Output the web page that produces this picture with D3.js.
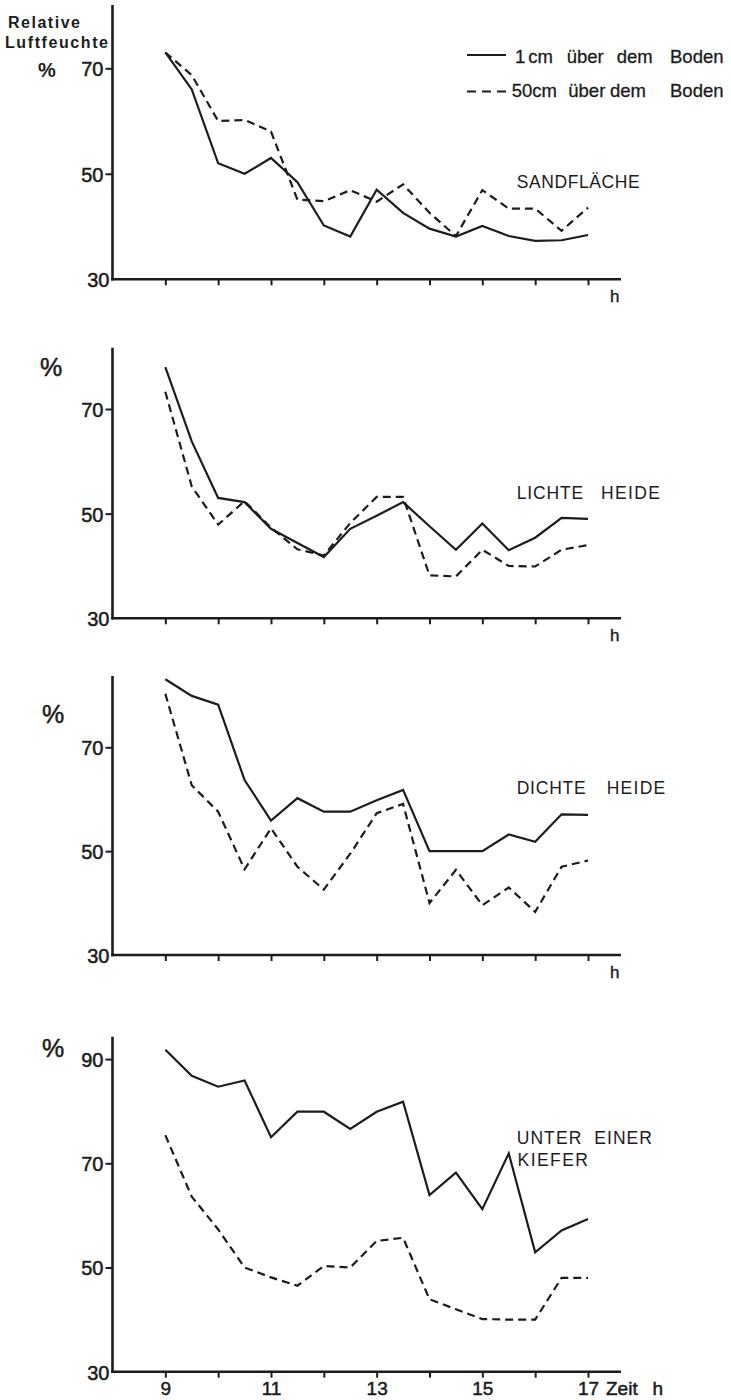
<!DOCTYPE html>
<html><head><meta charset="utf-8">
<script src="https://cdn.jsdelivr.net/npm/d3@7"></script>
<style>
body{margin:0;background:#fff}
svg{display:block}
text{font-family:"Liberation Sans",Arial,sans-serif;fill:#1c1c1c}
</style>
</head><body><svg id="c" width="731" height="1400"></svg>
<script>
// ---- data ----
const hours = [9, 9.5, 10, 10.5, 11, 11.5, 12, 12.5, 13, 13.5, 14, 14.5, 15, 15.5, 16, 16.5, 17];
const xTickValues = [9, 10, 11, 12, 13, 14, 15, 16, 17];
const xTickLabels = [9, 11, 13, 15, 17];
const seriesNames = ["1 cm über dem Boden", "50cm über dem Boden"];

const sandflaeche1cm  = [73, 66, 52, 50, 53, 48.4, 40.2, 38.1, 47, 42.6, 39.6, 38.1, 40.1, 38.2, 37.3, 37.4, 38.4];
const sandflaeche50cm = [73, 68.7, 60, 60.2, 58, 45.1, 44.8, 46.9, 44.7, 48, 42.6, 38.2, 46.9, 43.4, 43.4, 39.2, 43.6];
const lichteHeide1cm  = [78, 63.8, 53, 52.2, 47.1, 44.4, 41.7, 47.1, 49.6, 52.2, 47.6, 43.1, 48.1, 43, 45.4, 49.2, 49];
const lichteHeide50cm = [73.3, 55.2, 47.9, 52.4, 47.3, 43.2, 42, 48.2, 53.2, 53.2, 38.2, 38, 43.1, 40, 39.9, 43.1, 44];
const dichteHeide1cm  = [83.1, 79.9, 78.2, 63.7, 55.9, 60.2, 57.6, 57.6, 59.8, 61.8, 50, 50, 50, 53.2, 51.8, 57.1, 57];
const dichteHeide50cm = [80.3, 62.7, 57.6, 46.5, 54.4, 47, 42.6, 49.5, 57.3, 59.1, 40, 46.4, 39.6, 43, 38.3, 47, 48.2];
const kiefer1cm       = [91.8, 86.8, 84.7, 85.9, 75, 79.9, 79.9, 76.6, 79.9, 81.8, 63.9, 68.2, 61.2, 71.9, 52.9, 57.1, 59.3];
const kiefer50cm      = [75.4, 63.6, 57.3, 50, 48.1, 46.5, 50.3, 50, 55.1, 55.7, 43.9, 42, 40.1, 40, 40, 48, 48];

const panelLabels = [["SANDFLÄCHE"], ["LICHTE", "HEIDE"], ["DICHTE", "HEIDE"], ["UNTER EINER", "KIEFER"]];
const yTickSets = [[30, 50, 70], [30, 50, 70], [30, 50, 70], [30, 50, 70, 90]];
const panelSeries = [
  [sandflaeche1cm, sandflaeche50cm],
  [lichteHeide1cm, lichteHeide50cm],
  [dichteHeide1cm, dichteHeide50cm],
  [kiefer1cm, kiefer50cm]
];

// ---- layout ----
const layout = [
  {y30: 279.3, y70: 68.3, top: 5, pct: [38, 77, 20], lab: [{t:0,x:516.7,y:188}]},
  {y30: 618.3, y70: 409, top: 347.7, pct: [40, 376, 25], lab: [{t:0,x:516.7,y:499},{t:1,x:601,y:499}]},
  {y30: 955, y70: 747.3, top: 676, pct: [42, 723, 25], lab: [{t:0,x:516.7,y:794},{t:1,x:606.7,y:794}]},
  {y30: 1371.7, y70: 1163.3, top: 1036.7, pct: [42, 1057, 25], lab: [{t:0,x:516.7,y:1144},{t:1,x:517.6,y:1166}]}
];
const labWidths = [[123], [66.6, 59], [69, 58.6], [135.3, 70.4]];

const svg = d3.select("#c");
svg.append("rect").attr("width", 731).attr("height", 1400).attr("fill", "#fff");
const x = d3.scaleLinear().domain([8, 17]).range([112.5, 588]);
const axisEnd = 621;
const ink = "#1c1c1c";
const line = y => d3.line().x((d, i) => x(hours[i])).y(d => y(d));

layout.forEach((L, p) => {
  const y = d3.scaleLinear().domain([30, 70]).range([L.y30, L.y70]);
  const g = svg.append("g");
  const isBottom = p === 3;

  // x ticks
  const xa = d3.axisBottom(x).tickValues(xTickValues).tickSize(6).tickPadding(4)
    .tickFormat(d => isBottom && xTickLabels.includes(d) ? d : "");
  const gx = g.append("g").attr("transform", `translate(0,${L.y30})`).call(xa);
  gx.select(".domain").remove();
  gx.selectAll(".tick line").attr("stroke", ink).attr("stroke-width", 2);
  gx.selectAll(".tick text").attr("font-size", 19).attr("fill", ink).attr("font-family", null)
    .attr("stroke", ink).attr("stroke-width", 0.5);

  // y ticks
  const ya = d3.axisLeft(y).tickValues(yTickSets[p]).tickSize(7).tickPadding(2);
  const gy = g.append("g").attr("transform", `translate(${x(8)},0)`).call(ya);
  gy.select(".domain").remove();
  gy.selectAll(".tick line").attr("stroke", ink).attr("stroke-width", 2)
    .attr("x2", d => d === 30 ? 0 : -7);
  gy.selectAll(".tick text").attr("font-size", 20).attr("fill", ink).attr("dy", "0.37em")
    .attr("font-family", null).attr("stroke", ink).attr("stroke-width", 0.5)
    .attr("x", d => d === 30 ? -3 : -9);

  // axis lines
  g.append("line").attr("x1", x(8)).attr("x2", x(8)).attr("y1", L.y30 + 1.3).attr("y2", L.top)
    .attr("stroke", ink).attr("stroke-width", 2.6);
  g.append("line").attr("x1", x(8) - 1.3).attr("x2", axisEnd).attr("y1", L.y30).attr("y2", L.y30)
    .attr("stroke", ink).attr("stroke-width", 2.6);

  // series
  panelSeries[p].forEach((vals, s) => {
    g.append("path").datum(vals).attr("d", line(y))
      .attr("fill", "none").attr("stroke", ink).attr("stroke-width", 2.2)
      .attr("stroke-dasharray", s === 1 ? "8,5" : null);
  });

  // percent sign
  g.append("text").attr("x", L.pct[0]).attr("y", L.pct[1]).attr("font-size", L.pct[2])
    .attr("font-weight", p === 0 ? "bold" : "normal")
    .attr("stroke", ink).attr("stroke-width", p === 0 ? 0 : 0.5).text("%");

  // "h" on x axis
  if (!isBottom) {
    g.append("text").attr("x", 610).attr("y", L.y30 + 22.5).attr("font-size", 17)
      .attr("stroke", ink).attr("stroke-width", 0.4).text("h");
  }

  // panel label
  L.lab.forEach((l, k) => {
    g.append("text").attr("x", l.x).attr("y", l.y).attr("font-size", 17.5)
      .attr("textLength", labWidths[p][k]).attr("lengthAdjust", "spacing")
      .attr("xml:space", "preserve")
      .text(panelLabels[p][l.t].replace(" ", "  "));
  });
});

// bottom axis title
svg.append("text").attr("x", 606).attr("y", 1395).attr("font-size", 19)
  .attr("stroke", ink).attr("stroke-width", 0.5).text("Zeit");
svg.append("text").attr("x", 652.6).attr("y", 1395).attr("font-size", 19)
  .attr("stroke", ink).attr("stroke-width", 0.5).text("h");

// y title
svg.append("text").attr("x", 8).attr("y", 28).attr("font-size", 16).attr("font-weight", "bold")
  .attr("textLength", 72).attr("lengthAdjust", "spacing").text("Relative");
svg.append("text").attr("x", 5).attr("y", 48).attr("font-size", 16).attr("font-weight", "bold")
  .attr("textLength", 103).attr("lengthAdjust", "spacing").text("Luftfeuchte");

// legend
const legendRows = [
  {y: 55, ty: 62.7, words: [[515, "1"], [528.3, "cm"], [566.7, "über"], [616.7, "dem"], [670, "Boden"]]},
  {y: 91.5, ty: 96.7, words: [[511.7, "50cm"], [568.3, "über"], [610, "dem"], [670, "Boden"]]}
];
legendRows.forEach((r, i) => {
  svg.append("line").attr("x1", 467).attr("x2", 506).attr("y1", r.y).attr("y2", r.y)
    .attr("stroke", ink).attr("stroke-width", 2.2)
    .attr("stroke-dasharray", i === 1 ? "9,6" : null);
  const t = svg.append("text").attr("y", r.ty).attr("font-size", 18.5)
    .attr("stroke", ink).attr("stroke-width", 0.3);
  r.words.forEach(w => {
    t.append("tspan").attr("x", w[0]).text(w[1]);
  });
});
</script>
</body></html>
